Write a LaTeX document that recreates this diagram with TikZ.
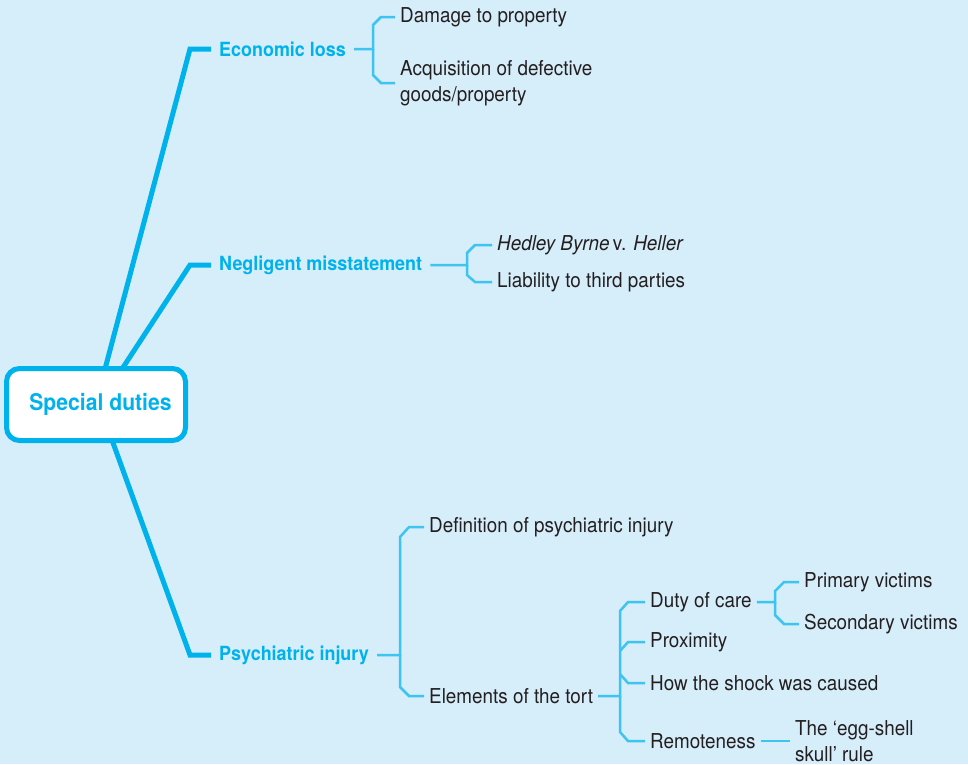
\documentclass[tikz,border=0pt]{standalone}
\usepackage{fontspec}
\setmainfont[FakeStretch=0.92]{TeX Gyre Heros}
\usetikzlibrary{calc}
\definecolor{bgblue}{RGB}{214,237,250}
\definecolor{limbcyan}{RGB}{0,178,236}
\definecolor{twigcyan}{RGB}{62,196,240}
\definecolor{inkgray}{RGB}{35,31,32}

\begin{document}
\begin{tikzpicture}[x=1pt, y=-1pt,
    limb/.style={draw=limbcyan, line width=5pt},
    twig/.style={draw=twigcyan, line width=2.5pt},
    title/.style={anchor=west, inner xsep=8pt, text=limbcyan, font=\fontsize{19.5}{24}\selectfont\bfseries},
    leaf/.style={anchor=west, inner xsep=5pt, text=inkgray, align=left, font=\fontsize{20.5}{26}\selectfont}]
  \fill[bgblue] (0,0) rectangle (968,764);
  \useasboundingbox (0,0) rectangle (968,764);

  %%% centre box
  \node[draw=limbcyan, line width=5pt, fill=white, rounded corners=13pt, minimum width=179pt, minimum height=72pt,
        text=limbcyan, font=\fontsize{23}{26}\selectfont\bfseries] (hub) at (96,404.5) {\hspace*{9pt}Special duties};

  %%% first level
  \node[title] (econ) at (211,49) {Economic loss};
  \node[title] (negl) at (211,265) {Negligent misstatement};
  \node[title] (psych) at (211,655) {Psychiatric injury};

  \draw[limb] ($(hub.north west)+(101,3)$) -- (190,49) -- (econ.west);
  \draw[limb] ($(hub.north west)+(118,3)$) -- (190,265) -- (negl.west);
  \draw[limb] ($(hub.south west)+(108,-3)$) -- (190,655) -- (psych.west);

  %%% economic loss
  \node[leaf] (damage) at (395,17) {Damage to property};
  \node[leaf] (goods) at (395,83) {Acquisition of defective\\goods/property};
  \draw[twig] (econ.east) -- (373,49) -- (373,25) -- (381,17) -- (damage.west);
  \draw[twig] (373,49) -- (373,75) -- (381,83) -- (goods.west);

  %%% negligent misstatement
  \node[leaf] (hedley) at (492,245) {\textit{Hedley Byrne}\,v. \textit{Heller}};
  \node[leaf] (third) at (492,282) {Liability to third parties};
  \draw[twig] (negl.east) -- (467,265) -- (467,253) -- (475,245) -- (hedley.west);
  \draw[twig] (467,265) -- (467,275) -- (475,282) -- (third.west);

  %%% psychiatric injury
  \node[leaf] (defn) at (424,527) {Definition of psychiatric injury};
  \node[leaf] (elem) at (424,696) {Elements of the tort};
  \draw[twig] (psych.east) -- (400,655) -- (400,537) -- (409,527) -- (defn.west);
  \draw[twig] (400,655) -- (400,687) -- (409,696) -- (elem.west);

  %%% elements of the tort
  \node[leaf] (duty) at (645,602) {Duty of care};
  \node[leaf] (prox) at (645,642) {Proximity};
  \node[leaf] (shock) at (645,683) {How the shock was caused};
  \node[leaf] (remote) at (645,741) {Remoteness};
  \draw[twig] (elem.east) -- (620,696) -- (620,611) -- (628,602) -- (duty.west);
  \draw[twig] (620,651) -- (628,642) -- (prox.west);
  \draw[twig] (620,674) -- (628,683) -- (shock.west);
  \draw[twig] (620,696) -- (620,732) -- (628,741) -- (remote.west);

  %%% duty of care
  \node[leaf] (primary) at (799,582) {Primary victims};
  \node[leaf] (second) at (799,624) {Secondary victims};
  \draw[twig] (duty.east) -- (775,602) -- (775,591) -- (784,582) -- (primary.west);
  \draw[twig] (775,602) -- (775,615) -- (784,624) -- (second.west);

  %%% remoteness
  \node[leaf] (eggshell) at (790,741) {The ‘egg-shell\\skull’ rule};
  \draw[twig] (remote.east) -- (eggshell.west);
\end{tikzpicture}
\end{document}
